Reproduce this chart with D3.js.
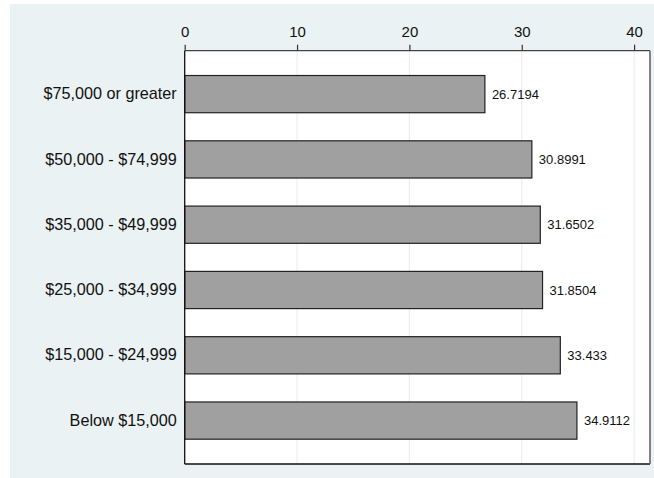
<!DOCTYPE html>
<html>
<head>
<meta charset="utf-8">
<script src="https://cdn.jsdelivr.net/npm/d3@7"></script>
<style>
  html, body { margin: 0; padding: 0; background: #ffffff; }
  svg { display: block; }
  text { font-family: "Liberation Sans", Arial, Helvetica, sans-serif; fill: #111; }
</style>
</head>
<body>
<svg id="chart" width="654" height="478"></svg>
<script>
const categories = ["$75,000 or greater", "$50,000 - $74,999", "$35,000 - $49,999", "$25,000 - $34,999", "$15,000 - $24,999", "Below $15,000"];
const values = [26.7194, 30.8991, 31.6502, 31.8504, 33.433, 34.9112];
const valueLabels = ["26.7194", "30.8991", "31.6502", "31.8504", "33.433", "34.9112"];
const tickValues = [0, 10, 20, 30, 40];

const W = 654, H = 478;
const plot = { left: 184.7, top: 50.7, right: 650, bottom: 464 };

const svg = d3.select("#chart");

svg.append("rect").attr("x", 10).attr("y", 4).attr("width", W - 10).attr("height", H - 4)
  .attr("fill", "#EAF2F3");

svg.append("rect").attr("x", plot.left).attr("y", plot.top)
  .attr("width", plot.right - plot.left).attr("height", plot.bottom - plot.top)
  .attr("fill", "#ffffff");

const x = d3.scaleLinear().domain([0, 40]).range([plot.left, 634.1]);

const y = d3.scaleBand().domain(categories).range([plot.top, plot.bottom])
  .paddingInner(0.43).paddingOuter(0.38);

// gridlines
svg.append("g").selectAll("line").data(tickValues.filter(d => d > 0)).join("line")
  .attr("x1", d => x(d)).attr("x2", d => x(d))
  .attr("y1", plot.top).attr("y2", plot.bottom)
  .attr("stroke", "#E3EDEF").attr("stroke-width", 1);

// bars
svg.append("g").selectAll("rect").data(categories).join("rect")
  .attr("x", x(0))
  .attr("y", d => y(d))
  .attr("width", (d, i) => x(values[i]) - x(0))
  .attr("height", y.bandwidth())
  .attr("fill", "#A0A0A0")
  .attr("stroke", "#222").attr("stroke-width", 1.2);

// value labels
svg.append("g").selectAll("text").data(categories).join("text")
  .attr("x", (d, i) => x(values[i]) + 7)
  .attr("y", d => y(d) + y.bandwidth() / 2)
  .attr("dy", "0.35em")
  .attr("font-size", "13px")
  .text((d, i) => valueLabels[i]);

// plot border
svg.append("line").attr("x1", plot.left).attr("x2", plot.right).attr("y1", plot.top).attr("y2", plot.top)
  .attr("stroke", "#444").attr("stroke-width", 1.3);
svg.append("line").attr("x1", plot.left).attr("x2", plot.right).attr("y1", plot.bottom).attr("y2", plot.bottom)
  .attr("stroke", "#111").attr("stroke-width", 1.3);
svg.append("line").attr("x1", plot.right).attr("x2", plot.right).attr("y1", plot.top).attr("y2", plot.bottom)
  .attr("stroke", "#666").attr("stroke-width", 1.6);
svg.append("line").attr("x1", plot.left).attr("x2", plot.left).attr("y1", plot.top).attr("y2", plot.bottom)
  .attr("stroke", "#111").attr("stroke-width", 1.3);

// top axis
const axisTop = d3.axisTop(x).tickValues(tickValues).tickSize(6).tickPadding(7.5).tickFormat(d3.format("d"));
const gx = svg.append("g").attr("transform", `translate(0,${plot.top})`).call(axisTop);
gx.select(".domain").remove();
gx.selectAll(".tick line").attr("stroke", "#333").attr("stroke-width", 1.2);
gx.selectAll(".tick text").attr("font-size", "15px").attr("fill", "#111")
  .attr("font-family", "Liberation Sans, Arial, sans-serif");

// category axis
const axisLeft = d3.axisLeft(y).tickSize(0).tickPadding(8);
const gy = svg.append("g").attr("transform", `translate(${plot.left},0)`).call(axisLeft);
gy.select(".domain").remove();
gy.selectAll(".tick text").attr("font-size", "16.2px").attr("fill", "#111")
  .attr("font-family", "Liberation Sans, Arial, sans-serif");
</script>
</body>
</html>
